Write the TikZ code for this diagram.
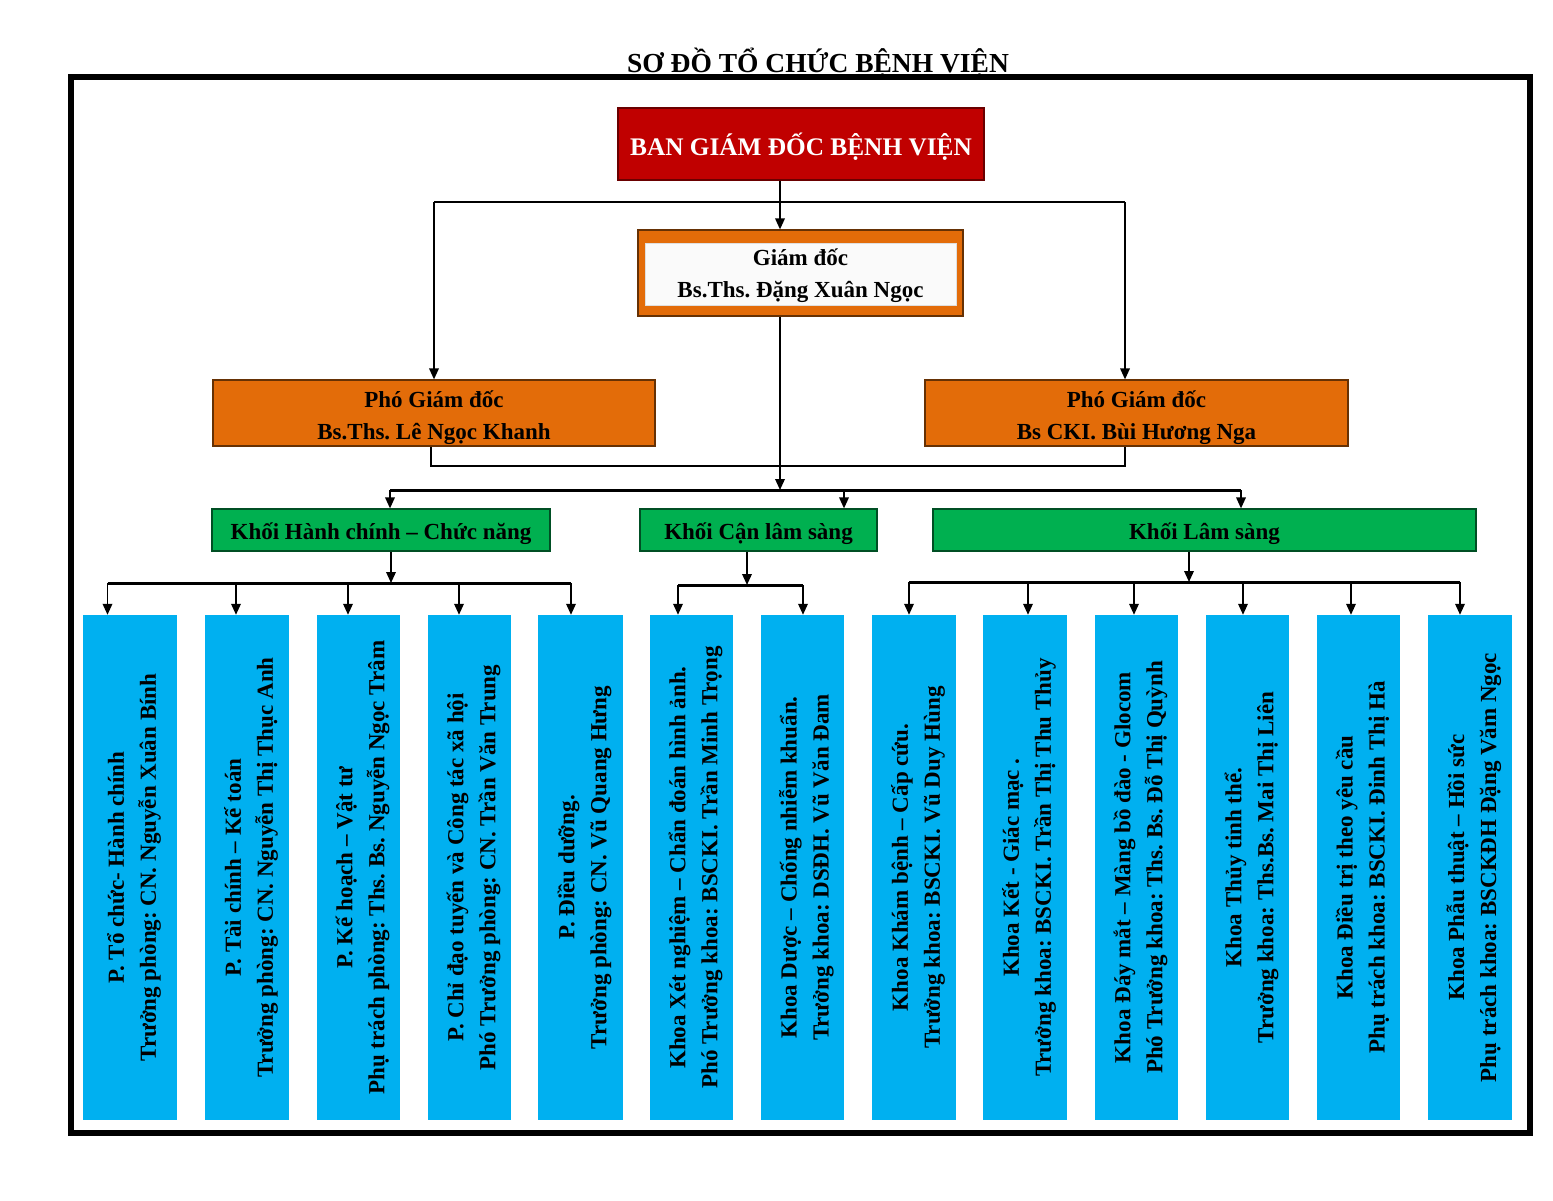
\documentclass[tikz,border=0pt]{standalone}
\usepackage{fontspec}
\setmainfont{Liberation Serif}
\usetikzlibrary{arrows.meta}
\definecolor{bvred}{HTML}{C00000}
\definecolor{bvorange}{HTML}{E36C09}
\definecolor{bvgreen}{HTML}{00B050}
\definecolor{bvblue}{HTML}{00B0F0}
\frenchspacing
\begin{document}
\frenchspacing
\begin{tikzpicture}[x=1pt,y=1pt,
  txt/.style={font=\bfseries\fontsize{23}{32}\selectfont\frenchspacing, align=center, inner sep=0pt},
  redbox/.style={fill=bvred, draw=bvred!55!black, line width=1.2pt, inner sep=0pt},
  redtxt/.style={txt, font=\bfseries\fontsize{25.3}{30}\selectfont\frenchspacing, text=white},
  orgbox/.style={fill=bvorange, draw=bvorange!45!black, line width=1.2pt, inner sep=0pt},
  inbox/.style={fill=gray!4, draw=gray!25, line width=0.6pt, inner sep=0pt},
  grnbox/.style={fill=bvgreen, draw=bvgreen!45!black, line width=1.2pt, minimum height=42pt, inner sep=0pt},
  blubox/.style={fill=bvblue, draw=none, minimum height=505pt, inner sep=0pt},
  vtxt/.style={txt, rotate=90},
  ln/.style={line width=1.8pt},
  bar/.style={line width=3pt},
  arr/.style={line width=1.8pt, -{Triangle[length=11pt,width=9.5pt]}}
]
\useasboundingbox (0,0) rectangle (1553,-1200);
\fill[white] (0,0) rectangle (1553,-1200);

% title and frame
\node[txt, font=\bfseries\fontsize{27.5}{30}\selectfont, anchor=base] (title) at (818,-72) {SƠ ĐỒ TỔ CHỨC BỆNH VIỆN};
\node[draw, line width=6pt, minimum width=1459pt, minimum height=1056pt, inner sep=0pt] (frame) at (800.5,-605) {};

% top level
\node[redbox, minimum width=366pt, minimum height=72pt] (ban) at (801,-144) {};
\node[redtxt] (bant) at ([yshift=-3pt]ban.center) {BAN GIÁM ĐỐC BỆNH VIỆN};
\node[orgbox, minimum width=325pt, minimum height=86pt] (gd) at (800.5,-273) {};
\node[inbox, minimum width=311pt, minimum height=62pt] (gdin) at (800.5,-274) {};
\node[txt] (gdt) at ([yshift=-1.5pt]gdin.center) {Giám đốc\\Bs.Ths. Đặng Xuân Ngọc};
\node[orgbox, minimum width=442pt, minimum height=66pt] (pgd1) at (434,-413) {};
\node[txt] (pgd1t) at ([yshift=-5pt]pgd1.center) {Phó Giám đốc\\Bs.Ths. Lê Ngọc Khanh};
\node[orgbox, minimum width=423pt, minimum height=66pt] (pgd2) at (1136.5,-413) {};
\node[txt] (pgd2t) at ([yshift=-5pt]pgd2.center) {Phó Giám đốc\\Bs CKI. Bùi Hương Nga};

% blocks
\node[grnbox, minimum width=338pt] (hc) at (381,-530) {};
\node[txt] (hct) at ([yshift=-4pt]hc.center) {Khối Hành chính – Chức năng};
\node[grnbox, minimum width=237pt] (cls) at (758.5,-530) {};
\node[txt] (clst) at ([yshift=-4pt]cls.center) {Khối Cận lâm sàng};
\node[grnbox, minimum width=543pt] (ls) at (1204.5,-530) {};
\node[txt] (lst) at ([yshift=-4pt]ls.center) {Khối Lâm sàng};

% departments
\node[blubox, minimum width=94pt] (b1) at (130,-867.5) {};
\node[vtxt] (t1) at ([xshift=4pt]b1.center) {P. Tổ chức- Hành chính\\Trưởng phòng: CN. Nguyễn Xuân Bính};
\node[blubox, minimum width=84pt] (b2) at (247,-867.5) {};
\node[vtxt] (t2) at ([xshift=4pt]b2.center) {P. Tài chính – Kế toán\\Trưởng phòng: CN. Nguyễn Thị Thục Anh};
\node[blubox, minimum width=83pt] (b3) at (358.5,-867.5) {};
\node[vtxt] (t3) at ([xshift=4pt]b3.center) {P. Kế hoạch – Vật tư\\Phụ trách phòng: Ths. Bs. Nguyễn Ngọc Trâm};
\node[blubox, minimum width=83pt] (b4) at (469.5,-867.5) {};
\node[vtxt] (t4) at ([xshift=4pt]b4.center) {P. Chỉ đạo tuyến và Công tác xã hội\\Phó Trưởng phòng: CN. Trần Văn Trung};
\node[blubox, minimum width=85pt] (b5) at (580.5,-867.5) {};
\node[vtxt] (t5) at ([xshift=4pt]b5.center) {P. Điều dưỡng.\\Trưởng phòng: CN. Vũ Quang Hưng};
\node[blubox, minimum width=83pt] (b6) at (691.5,-867.5) {};
\node[vtxt] (t6) at ([xshift=4pt]b6.center) {Khoa Xét nghiệm – Chẩn đoán hình ảnh.\\Phó Trưởng khoa: BSCKI. Trần Minh Trọng};
\node[blubox, minimum width=83pt] (b7) at (802.5,-867.5) {};
\node[vtxt] (t7) at ([xshift=4pt]b7.center) {Khoa Dược – Chống nhiễm khuẩn.\\Trưởng khoa: DSĐH. Vũ Văn Đam};
\node[blubox, minimum width=84pt] (b8) at (914,-867.5) {};
\node[vtxt] (t8) at ([xshift=4pt]b8.center) {Khoa Khám bệnh – Cấp cứu.\\Trưởng khoa: BSCKI. Vũ Duy Hùng};
\node[blubox, minimum width=84pt] (b9) at (1025,-867.5) {};
\node[vtxt] (t9) at ([xshift=4pt]b9.center) {Khoa Kết - Giác mạc .\\Trưởng khoa: BSCKI. Trần Thị Thu Thủy};
\node[blubox, minimum width=83pt] (b10) at (1136.5,-867.5) {};
\node[vtxt] (t10) at ([xshift=4pt]b10.center) {Khoa Đáy mắt – Màng bồ đào - Glocom\\Phó Trưởng khoa: Ths. Bs. Đỗ Thị Quỳnh};
\node[blubox, minimum width=83pt] (b11) at (1247.5,-867.5) {};
\node[vtxt] (t11) at ([xshift=4pt]b11.center) {Khoa Thủy tinh thể.\\Trưởng khoa: Ths.Bs. Mai Thị Liên};
\node[blubox, minimum width=83pt] (b12) at (1358.5,-867.5) {};
\node[vtxt] (t12) at ([xshift=4pt]b12.center) {Khoa Điều trị theo yêu cầu\\Phụ trách khoa: BSCKI. Đinh Thị Hà};
\node[blubox, minimum width=84pt] (b13) at (1470,-867.5) {};
\node[vtxt] (t13) at ([xshift=4pt]b13.center) {Khoa Phẫu thuật – Hồi sức\\Phụ trách khoa: BSCKĐH Đặng Văm Ngọc};

% connectors: top
\coordinate (sp) at (780,0);
\draw[arr] (ban.south -| sp) -- (gd.north -| sp);
\coordinate (tl) at (434,-202);
\coordinate (tr) at (1125,-202);
\draw[ln] (tl) -- (tr);
\draw[arr] (tl) -- (tl |- pgd1.north);
\draw[arr] (tr) -- (tr |- pgd2.north);
\coordinate (ml) at (431,-466);
\coordinate (mr) at (1125,-466);
\draw[ln] (ml |- pgd1.south) -- (ml) -- (mr) -- (mr |- pgd2.south);
\coordinate (bj) at (780,-490);
\draw[arr] (gd.south -| sp) -- (bj);
\coordinate (g1) at (390,-490);
\coordinate (g2) at (844,-490);
\coordinate (g3) at (1241,-490);
\draw[bar] (g1) -- (g3);
\draw[arr] (g1) -- (g1 |- hc.north);
\draw[arr] (g2) -- (g2 |- cls.north);
\draw[arr] (g3) -- (g3 |- ls.north);

% left group
\coordinate (h0) at (391,-583);
\draw[arr] (hc.south -| h0) -- (h0);
\coordinate (h1) at (107.5,-583);
\coordinate (h2) at (236,-583);
\coordinate (h3) at (348,-583);
\coordinate (h4) at (459,-583);
\coordinate (h5) at (571,-583);
\draw[bar] (h1) -- (h5);
\draw[arr] (h1) -- (h1 |- b1.north);
\draw[arr] (h2) -- (h2 |- b2.north);
\draw[arr] (h3) -- (h3 |- b3.north);
\draw[arr] (h4) -- (h4 |- b4.north);
\draw[arr] (h5) -- (h5 |- b5.north);

% middle group
\coordinate (c0) at (747,-585);
\draw[arr] (cls.south -| c0) -- (c0);
\coordinate (c1) at (678,-585);
\coordinate (c2) at (803,-585);
\draw[bar] (c1) -- (c2);
\draw[arr] (c1) -- (c1 |- b6.north);
\draw[arr] (c2) -- (c2 |- b7.north);

% right group
\coordinate (l0) at (1189,-582);
\draw[arr] (ls.south -| l0) -- (l0);
\coordinate (l1) at (909,-582);
\coordinate (l2) at (1028,-582);
\coordinate (l3) at (1134,-582);
\coordinate (l4) at (1243,-582);
\coordinate (l5) at (1351,-582);
\coordinate (l6) at (1460,-582);
\draw[bar] (l1) -- (l6);
\draw[arr] (l1) -- (l1 |- b8.north);
\draw[arr] (l2) -- (l2 |- b9.north);
\draw[arr] (l3) -- (l3 |- b10.north);
\draw[arr] (l4) -- (l4 |- b11.north);
\draw[arr] (l5) -- (l5 |- b12.north);
\draw[arr] (l6) -- (l6 |- b13.north);
\end{tikzpicture}
\end{document}
